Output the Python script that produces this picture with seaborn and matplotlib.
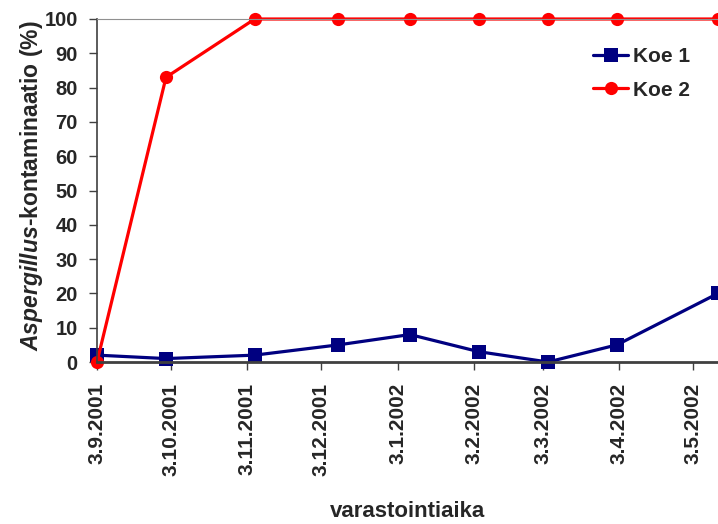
import matplotlib
matplotlib.use("Agg")
import matplotlib.pyplot as plt
import matplotlib.dates as mdates
import seaborn as sns
import pandas as pd

# ---- data ----
dates = ["2001-09-03", "2001-10-01", "2001-11-06", "2001-12-10", "2002-01-08",
         "2002-02-05", "2002-03-05", "2002-04-02", "2002-05-13"]
koe1 = [2, 1, 2, 5, 8, 3, 0, 5, 20]
koe2 = [0, 83, 100, 100, 100, 100, 100, 100, 100]
series_names = ["Koe 1", "Koe 2"]
tick_labels = ["3.9.2001", "3.10.2001", "3.11.2001", "3.12.2001", "3.1.2002",
               "3.2.2002", "3.3.2002", "3.4.2002", "3.5.2002"]
y_ticks = [0, 10, 20, 30, 40, 50, 60, 70, 80, 90, 100]

df = pd.DataFrame({
    "date": pd.to_datetime(dates * 2),
    "value": koe1 + koe2,
    "series": [series_names[0]] * len(dates) + [series_names[1]] * len(dates),
})

sns.set_style("white")
plt.rcParams["font.family"] = ["Liberation Sans", "DejaVu Sans"]
plt.rcParams["mathtext.fontset"] = "custom"
plt.rcParams["mathtext.it"] = "Liberation Sans:italic:bold"
plt.rcParams["mathtext.rm"] = "Liberation Sans:bold"
plt.rcParams["mathtext.bf"] = "Liberation Sans:bold"

fig = plt.figure(figsize=(7.18, 5.24), dpi=100)
ax = fig.add_axes([97 / 718, 1 - 362 / 524, 1.0 - 97 / 718, (362 - 19) / 524])

sns.lineplot(data=df, x="date", y="value", hue="series", style="series",
             markers=["s", "o"], dashes=False,
             palette=["#000080", "#FF0000"], linewidth=2.3,
             markersize=9.5, markeredgewidth=0, ax=ax, clip_on=False)
for ln in ax.lines:
    ln.set_clip_on(False)

ax.set_xlim(pd.Timestamp(dates[0]), pd.Timestamp(dates[-1]))
ax.set_ylim(0, 100)
tick_dates = pd.to_datetime(tick_labels, format="%d.%m.%Y")
ax.set_xticks(mdates.date2num(tick_dates))
ax.set_xticklabels(tick_labels, rotation=90, fontsize=15, fontweight="bold")
ax.set_yticks(y_ticks)
ax.set_yticklabels([str(v) for v in y_ticks], fontsize=14.5, fontweight="bold")

ax.tick_params(axis="both", which="major", direction="out", length=5.8,
               width=1.0, color="#404040", bottom=True, left=True)
ax.tick_params(axis="y", pad=8)
ax.tick_params(axis="x", pad=9)

for side in ["left", "bottom"]:
    ax.spines[side].set_color("#404040")
ax.spines["left"].set_linewidth(1.2)
ax.spines["bottom"].set_linewidth(2.0)
ax.spines["top"].set_color("#909090")
ax.spines["top"].set_linewidth(0.8)
ax.spines["right"].set_visible(False)

ax.set_xlabel("varastointiaika", fontsize=16, fontweight="bold")
ax.xaxis.set_label_coords(0.5, -0.405)
ax.set_ylabel(r"$\mathit{Aspergillus}$-kontaminaatio (%)", fontsize=16.5,
              fontweight="bold")
ax.yaxis.set_label_coords(-0.083, 0.513)

leg = ax.legend(title=None, frameon=False, loc="upper left",
                bbox_to_anchor=(0.799, 0.918), fontsize=15, handlelength=1.68,
                handletextpad=0.24, labelspacing=0.69, borderpad=0,
                borderaxespad=0)
for t in leg.get_texts():
    t.set_fontweight("bold")

fig.savefig("out.png", dpi=100)
